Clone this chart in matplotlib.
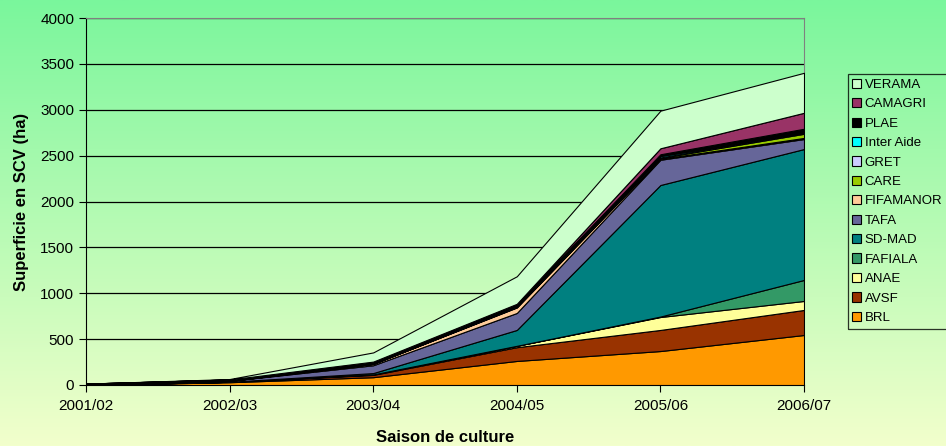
import numpy as np
import matplotlib
matplotlib.use("Agg")
import matplotlib.pyplot as plt
from matplotlib.patches import Patch

seasons = ["2001/02", "2002/03", "2003/04", "2004/05", "2005/06", "2006/07"]
# series from bottom to top of the stack
names = ["BRL", "AVSF", "ANAE", "FAFIALA", "SD-MAD", "TAFA", "FIFAMANOR",
         "CARE", "GRET", "Inter Aide", "PLAE", "CAMAGRI", "VERAMA"]
brl = [0, 30, 85, 262, 370, 545]
avsf = [0, 5, 25, 150, 230, 273]
anae = [0, 0, 5, 15, 141, 98]
fafiala = [0, 0, 0, 0, 5, 229]
sdmad = [0, 0, 15, 173, 1434, 1427]
tafa = [5, 10, 85, 185, 275, 109]
fifamanor = [0, 0, 15, 60, 10, 12]
care = [0, 0, 0, 5, 10, 45]
gret = [0, 0, 0, 5, 5, 10]
interaide = [0, 0, 5, 10, 15, 5]
plae = [10, 15, 20, 20, 20, 40]
camagri = [0, 0, 0, 0, 65, 174]
verama = [0, 5, 100, 300, 410, 436]
colors = ["#FF9900", "#993300", "#FFFF99", "#339966", "#008080", "#666699",
          "#FFCC99", "#99CC00", "#CCCCFF", "#00FFFF", "#000000", "#993366",
          "#CCFFCC"]

series = [brl, avsf, anae, fafiala, sdmad, tafa, fifamanor, care, gret,
          interaide, plae, camagri, verama]

plt.rcParams['font.family'] = ['Liberation Sans', 'DejaVu Sans']
fig = plt.figure(figsize=(9.46, 4.46), dpi=100)

# gradient background
bg = fig.add_axes([0, 0, 1, 1], zorder=-10)
top = np.array([122, 246, 156]) / 255
bot = np.array([242, 255, 204]) / 255
t = np.linspace(0, 1, 256)[:, None]
grad = top + (bot - top) * t
bg.imshow(grad[:, None, :], aspect="auto", extent=[0, 1, 0, 1])
bg.axis("off")

ax = fig.add_axes([0.0909, 0.1368, 0.7590, 0.8228])
ax.patch.set_alpha(0)
x = np.arange(len(seasons))
ax.stackplot(x, *series, colors=colors, edgecolor="black", linewidth=0.8, zorder=3)

ax.set_xlim(0, len(seasons) - 1)
ax.set_ylim(0, 4000)
ax.set_yticks(np.arange(0, 4001, 500))
ax.set_xticks(x)
ax.set_xticklabels(seasons, fontsize=11)
ax.tick_params(axis="y", labelsize=11, length=5, color="black")
ax.tick_params(axis="x", length=5, color="black", pad=5)
for v in range(500, 4001, 500):
    ax.axhline(v, color="black", linewidth=0.9, zorder=1)
for s in ["top", "right"]:
    ax.spines[s].set_color("#808080")
ax.spines["left"].set_color("black")
ax.spines["bottom"].set_color("black")

ax.set_xlabel("Saison de culture", fontsize=12, fontweight="bold", labelpad=12)
ax.set_ylabel("Superficie en SCV (ha)", fontsize=12, fontweight="bold", labelpad=8)

handles = [Patch(facecolor=c, edgecolor="black", linewidth=0.8, label=n)
           for n, c in zip(names, colors)][::-1]
leg = fig.legend(handles=handles, loc="upper left", bbox_to_anchor=(0.896, 0.834),
                 fontsize=9.5, frameon=True, fancybox=False,
                 edgecolor="black", handlelength=0.7, handleheight=0.7,
                 handletextpad=0.25, labelspacing=0.545, borderpad=0.35,
                 borderaxespad=0)
leg.get_frame().set_facecolor("none")
leg.get_frame().set_linewidth(0.9)

fig.savefig("out.png", dpi=100)
